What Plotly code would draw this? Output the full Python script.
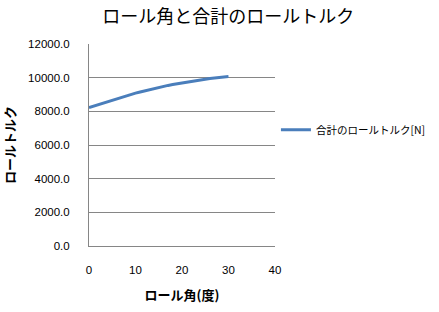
import plotly.graph_objects as go

angle = list(range(0, 31))
torque = [8220, 8310, 8400, 8490, 8570, 8660, 8740, 8830, 8910, 8990,
          9080, 9150, 9220, 9290, 9360, 9430, 9490, 9540, 9590, 9640,
          9690, 9740, 9790, 9830, 9870, 9910, 9950, 9980, 10010, 10040, 10070]

series_name = "合計のロールトルク[N]"
title = "ロール角と合計のロールトルク"
x_title = "ロール角(度)"
y_title = "ロールトルク"

jp = "Noto Sans CJK JP"
lat = "Liberation Sans, Noto Sans, sans-serif"

fig = go.Figure()
fig.add_trace(go.Scatter(x=angle, y=torque, mode="lines", name=series_name,
                         line=dict(color="#4A7EBB", width=3)))

fig.update_layout(
    width=439, height=312,
    margin=dict(l=89, r=164, t=44, b=66, autoexpand=False),
    paper_bgcolor="white", plot_bgcolor="white",
    title=dict(text=title, x=0.52, xanchor="center", y=0.945, yanchor="middle",
               font=dict(family=jp, size=18, color="black")),
    showlegend=True,
    legend=dict(x=1.005, y=0.575, xanchor="left", yanchor="middle",
                font=dict(family=jp, size=10.5, color="black"),
                bgcolor="rgba(0,0,0,0)", itemwidth=30),
    xaxis=dict(range=[0, 40], dtick=10, tick0=0, showgrid=False,
               showline=True, linecolor="#868686", linewidth=1,
               zeroline=False, ticks="", ticklabelstandoff=13,
               tickfont=dict(family=lat, size=11.5, color="black"),
               title=dict(text=x_title, standoff=16,
                          font=dict(family=jp, size=13, color="black", weight="bold"))),
    yaxis=dict(range=[0, 12000], dtick=2000, tick0=0, tickformat=".1f",
               showgrid=True, gridcolor="#868686", gridwidth=1,
               showline=True, linecolor="#868686", linewidth=1,
               zeroline=False, ticks="", ticklabelstandoff=16,
               tickfont=dict(family=lat, size=11.5, color="black"),
               title=dict(text=y_title, standoff=18,
                          font=dict(family=jp, size=13, color="black", weight="bold"))),
)

fig.write_html("out.html")
